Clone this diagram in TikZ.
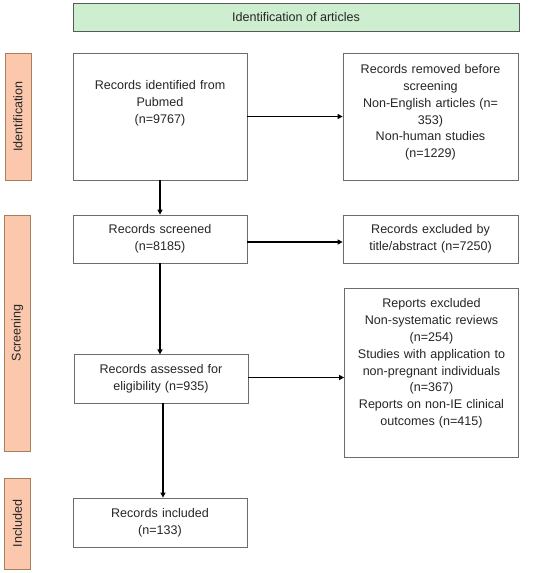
\documentclass[tikz,border=0pt]{standalone}
\usepackage{fontspec}
\setmainfont{Liberation Sans}
\usepackage{tikz}
\usetikzlibrary{arrows.meta,calc}
\definecolor{headgreen}{RGB}{206,238,208}
\definecolor{sidesalmon}{RGB}{251,200,174}
\tikzset{
  box/.style={draw=gray!85!black, line width=0.8pt, fill=white, minimum width=174bp, text width=170bp, align=center, inner sep=2pt, font=\fontsize{12.6}{17}\selectfont, text=black!85},
  phase/.style={draw=brown!60!gray, line width=0.8pt, fill=sidesalmon, minimum height=26bp, rotate=90, font=\fontsize{12.6}{14}\selectfont, text=black!85},
  flow/.style={line width=1.6pt, -{Triangle[length=5pt,width=5pt]}}
}
\begin{document}
\begin{tikzpicture}[x=1bp,y=-1bp]
\useasboundingbox (0,0) rectangle (550,573);
% header
\node[draw=gray!70!black, line width=0.8pt, fill=headgreen, minimum width=446bp, minimum height=28bp, font=\fontsize{12.6}{14}\selectfont, text=black!85] (head) at (296,17) {Identification of articles};
% phases
\node[phase, minimum width=127bp] (pid) at (18,116.5) {Identification};
\node[phase, minimum width=236bp] (pscr) at (17.5,333) {Screening};
\node[phase, minimum width=91bp] (pinc) at (17.5,523.5) {Included};
% left column
\node[box, minimum height=127bp, text depth=64pt] (ident) at (160,116.5) {Records identified from\\Pubmed\\(n=9767)};
\node[box, minimum height=48bp] (screen) at (160,239) {Records screened\\(n=8185)};
\node[box, minimum height=49bp] (elig) at (161,378.5) {Records assessed for\\eligibility (n=935)};
\node[box, minimum height=49bp] (incl) at (160,522.5) {Records included\\(n=133)};
% right column
\node[box, minimum width=175bp, minimum height=127bp, text depth=96pt] (removed) at (430.5,116.5) {Records removed before\\screening\\Non-English articles (n=\\353)\\Non-human studies\\(n=1229)};
\node[box, minimum width=175bp, minimum height=48bp] (excl) at (430.5,239) {Records excluded by\\title/abstract (n=7250)};
\node[box, minimum width=173bp, minimum height=169bp, text depth=140pt] (reports) at (431.5,372.5) {Reports excluded\\Non-systematic reviews\\(n=254)\\Studies with application to\\non-pregnant individuals\\(n=367)\\Reports on non-IE clinical\\outcomes (n=415)};
% arrows
\draw[flow] (ident.east) -- (removed.west);
\draw[flow] (ident.south) -- (screen.north);
\draw[flow] ($(screen.east)+(0,3)$) -- ($(excl.west)+(0,3)$);
\draw[flow] ($(screen.south)+(0,0)$) -- ($(screen.south)+(0,91)$);
\draw[flow] ($(elig.east)+(0,-1)$) -- ($(elig.east -| reports.west)+(0,-1)$);
\draw[flow] ($(elig.south)+(2,0)$) -- ($(incl.north)+(3,0)$);
\end{tikzpicture}
\end{document}
